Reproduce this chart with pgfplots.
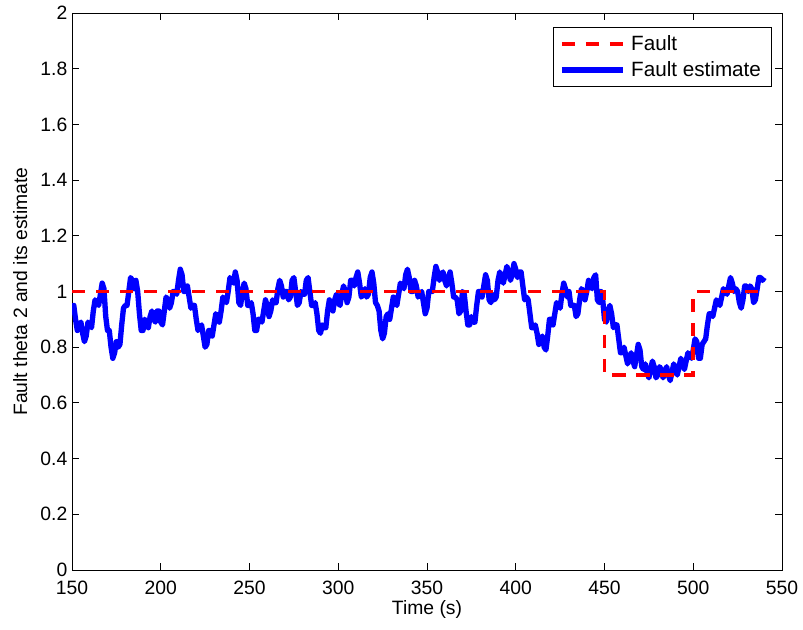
\documentclass[border=0pt]{standalone}
\usepackage{fontspec}
\setmainfont{Liberation Sans}
\usepackage{pgfplots}
\pgfplotsset{compat=1.18}
\usepackage{pgfplotstable}
\pgfplotstableread{
x y
150 0.93
151 0.95
152 0.90
153 0.86
154 0.88
155 0.89
156 0.85
157 0.82
158 0.84
159 0.89
160 0.88
161 0.87
162 0.93
163 0.97
164 0.96
165 0.95
166 0.99
167 1.03
168 1.01
169 0.91
170 0.86
171 0.86
172 0.80
173 0.76
174 0.78
175 0.82
176 0.80
177 0.81
178 0.88
179 0.94
180 0.95
181 0.95
182 1.00
183 1.05
184 1.04
185 1.01
186 1.04
187 1.00
188 0.92
189 0.86
190 0.86
191 0.90
192 0.89
193 0.87
194 0.91
195 0.93
196 0.90
197 0.89
198 0.93
199 0.93
200 0.89
201 0.88
202 0.93
203 0.98
204 0.97
205 0.94
206 0.96
207 1.00
208 1.00
209 0.99
210 1.04
211 1.08
212 1.06
213 1.00
214 1.00
215 1.02
216 0.98
217 0.94
218 0.95
219 0.95
220 0.90
221 0.86
222 0.87
223 0.88
224 0.84
225 0.80
226 0.81
227 0.86
228 0.86
229 0.84
230 0.88
231 0.92
232 0.91
233 0.89
234 0.93
235 0.98
236 0.97
237 0.96
238 1.00
239 1.05
240 1.04
241 1.03
242 1.07
243 1.04
244 0.96
245 0.95
246 1.00
247 1.03
248 1.01
249 0.95
250 0.95
251 0.96
252 0.92
253 0.86
254 0.86
255 0.90
256 0.90
257 0.89
258 0.93
259 0.97
260 0.95
261 0.91
262 0.93
263 0.97
264 0.96
265 0.96
266 1.01
267 1.04
268 1.02
269 0.98
270 1.00
271 1.00
272 0.97
273 0.98
274 1.04
275 1.05
276 1.00
277 0.95
278 0.96
279 1.00
280 0.99
281 0.99
282 1.04
283 1.05
284 1.00
285 0.95
286 0.95
287 0.96
288 0.92
289 0.86
290 0.85
291 0.88
292 0.87
293 0.87
294 0.93
295 0.97
296 0.95
297 0.93
298 0.97
299 0.99
300 0.96
301 0.95
302 0.99
303 1.02
304 1.00
305 0.96
306 0.98
307 1.04
308 1.04
309 1.02
310 1.05
311 1.07
312 1.03
313 0.98
314 0.99
315 1.01
316 0.98
317 0.99
318 1.05
319 1.07
320 1.03
321 0.96
322 0.95
323 0.93
324 0.86
325 0.83
326 0.85
327 0.91
328 0.92
329 0.90
330 0.94
331 0.98
332 0.96
333 0.95
334 0.99
335 1.03
336 1.02
337 1.01
338 1.06
339 1.08
340 1.05
341 1.00
342 1.00
343 1.04
344 1.02
345 0.98
346 0.99
347 1.00
348 0.96
349 0.92
350 0.94
351 1.00
352 1.00
353 1.00
354 1.05
355 1.09
356 1.07
357 1.04
358 1.06
359 1.07
360 1.04
361 1.02
362 1.05
363 1.07
364 1.03
365 0.98
366 0.98
367 0.97
368 0.92
369 0.93
370 1.00
371 0.99
372 0.93
373 0.88
374 0.88
375 0.91
376 0.89
377 0.89
378 0.95
379 1.00
380 1.00
381 0.98
382 1.02
383 1.06
384 1.04
385 0.97
386 0.96
387 0.99
388 0.97
389 0.98
390 1.04
391 1.07
392 1.05
393 1.03
394 1.06
395 1.09
396 1.07
397 1.04
398 1.06
399 1.10
400 1.08
401 1.05
402 1.07
403 1.07
404 1.02
405 0.97
406 0.98
407 0.97
408 0.92
409 0.87
410 0.87
411 0.88
412 0.85
413 0.81
414 0.83
415 0.84
416 0.80
417 0.79
418 0.84
419 0.90
420 0.90
421 0.88
422 0.92
423 0.96
424 0.95
425 0.94
426 0.99
427 1.03
428 1.01
429 0.98
430 1.00
431 0.95
432 0.95
433 0.95
434 0.91
435 0.92
436 0.97
437 1.01
438 1.00
439 0.97
440 1.00
441 1.04
442 1.02
443 1.01
444 1.05
445 1.06
446 0.97
447 0.96
448 1.00
449 0.97
450 0.90
451 0.89
452 0.93
453 0.95
454 0.92
455 0.87
456 0.88
457 0.88
458 0.83
459 0.78
460 0.78
461 0.80
462 0.77
463 0.74
464 0.76
465 0.78
466 0.75
467 0.73
468 0.77
469 0.81
470 0.79
471 0.73
472 0.72
473 0.74
474 0.71
475 0.69
476 0.72
477 0.75
478 0.73
479 0.69
480 0.70
481 0.73
482 0.72
483 0.69
484 0.71
485 0.73
486 0.70
487 0.68
488 0.71
489 0.74
490 0.72
491 0.70
492 0.73
493 0.76
494 0.74
495 0.72
496 0.75
497 0.78
498 0.77
499 0.76
500 0.79
501 0.83
502 0.82
503 0.76
504 0.76
505 0.81
506 0.82
507 0.83
508 0.88
509 0.92
510 0.92
511 0.91
512 0.94
513 0.97
514 0.96
515 0.95
516 0.98
517 1.01
518 1.00
519 0.99
520 1.02
521 1.05
522 1.03
523 1.00
524 1.01
525 1.00
526 0.96
527 0.94
528 0.97
529 1.02
530 1.02
531 1.00
532 1.02
533 1.01
534 0.96
535 0.97
536 1.01
537 1.05
538 1.05
539 1.04
540 1.05
}\estimate
\pgfplotstableread{
x y
150 1
450 1
450 0.7
500 0.7
500 1
540 1
}\fault
\begin{document}
\begin{tikzpicture}
\useasboundingbox (0,0) rectangle (602.25pt,472.5pt);
\begin{axis}[
  at={(54pt,45pt)}, anchor=south west,
  scale only axis, width=532.5pt, height=417.75pt,
  xmin=150, xmax=550, ymin=0, ymax=2,
  xtick={150,200,...,550},
  ytick={0,0.2,...,2.01},
  tick align=inside,
  major tick length=5pt,
  axis line style={line width=0.6pt},
  every tick/.style={black, line width=0.6pt},
  /pgf/number format/assume math mode=true,
  font=\fontsize{14.5}{17}\selectfont,
  ticklabel style={font=\fontsize{14.5}{17}\selectfont},
  xticklabel style={yshift=-5pt},
  xlabel={Time (s)},
  ylabel={Fault theta 2 and its estimate},
  xlabel style={at={(axis description cs:0.5,-0.071)}, anchor=center},
  ylabel style={at={(axis description cs:-0.073,0.5)}, anchor=center},
  reverse legend,
  legend style={at={(0.986,0.975)}, anchor=north east, draw=black, line width=0.6pt,
    font=\fontsize{15.5}{18}\selectfont, row sep=3pt, inner sep=4pt,
    nodes={inner xsep=4pt}},
  legend cell align=left,
  legend image code/.code={\draw[#1] (0pt,0pt) -- (46pt,0pt);},
]
\addplot[blue, line width=4pt, line join=round] table[x=x,y=y] {\estimate};
\addlegendentry{Fault estimate}
\addplot[red, line width=2.8pt, dash pattern=on 10pt off 8pt] table[x=x,y=y] {\fault};
\addlegendentry{Fault}
\end{axis}
\end{tikzpicture}
\end{document}
